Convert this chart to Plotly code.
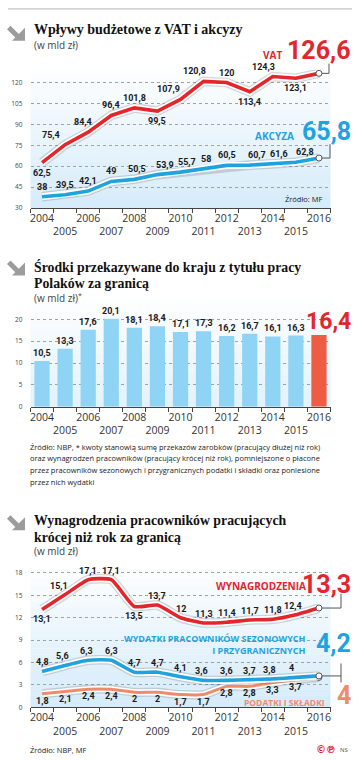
import plotly.graph_objects as go

# ---------------- data ----------------
years = list(range(2004, 2017))
vat = [62.5, 75.4, 84.4, 96.4, 101.8, 99.5, 107.9, 120.8, 120, 113.4, 124.3, 123.1, 126.6]
akcyza = [38, 39.5, 42.1, 49, 50.5, 53.9, 55.7, 58, 60.5, 60.7, 61.6, 62.8, 65.8]
transfers = [10.5, 13.3, 17.6, 20.1, 18.1, 18.4, 17.1, 17.3, 16.2, 16.7, 16.1, 16.3, 16.4]
wages = [13.1, 15.1, 17.1, 17.1, 13.5, 13.7, 12, 11.3, 11.4, 11.7, 11.8, 12.4, 13.3]
expenses = [4.8, 5.6, 6.3, 6.3, 4.7, 4.7, 4.1, 3.6, 3.6, 3.7, 3.8, 4, 4.2]
taxes = [1.8, 2.1, 2.4, 2.4, 2, 2, 1.7, 1.7, 2.8, 2.8, 3.3, 3.7, 4]
year_labels = [str(y) if y % 2 == 0 else "<br>" + str(y) for y in years]
y1_ticks = [30, 45, 60, 75, 90, 105, 120]
y2_ticks = [0, 5, 10, 15, 20]
y3_ticks = [0, 3, 6, 9, 12, 15, 18]

# label placement (style): t = above, b = below; horizontal nudges in px
vat_pos = ['b', 't', 't', 't', 't', 'b', 't', 't', 't', 'b', 't', 'b']
vat_dx = [0, -14, -5, 0, 0, 0, -12, -9, 0, 0, -9, 0]
akc_pos = ['t'] * 12
akc_dx = [0, 0, 0, 0, 3, 8, 6, 2, 0, 7, 6, 9]
bar_pos = ['t'] * 12
bar_dx = [0] * 12
wag_pos = ['b', 't', 't', 't', 'b', 't', 't', 't', 't', 't', 't', 't']
wag_dx = [0, -6, 0, 0, 0, 0, 0, 0, 0, 0, 0, -3]
exp_pos = ['t'] * 12
exp_dx = [0, -3, -2, 0, 0, 0, 0, -2, 0, 0, -3, -4]
tax_pos = ['b'] * 12
tax_dx = [0, 0, 0, 0, 0, 0, 0, 0, 0, 0, 0, 0]

# ---------------- geometry ----------------
W, H = 363, 760
X_LEFT, X_RIGHT = 30.5, 330.5
X_MIN, X_MAX = 2003.5, 2016.5
charts = {
    1: dict(top=70, bottom=209, ymin=30, ymax=30 + 139 / 1.4),
    2: dict(top=300, bottom=409, ymin=0, ymax=109 / 4.4),
    3: dict(top=570, bottom=711, ymin=0, ymax=141 / 7.5),
}

RED = "#e3262b"
BLUE = "#1fa3df"
SALMON = "#f08a6c"
SANS = "Open Sans"
NUM = "Roboto"
SERIF = "Liberation Serif"


def px_x(x):
    return X_LEFT + (x - X_MIN) / (X_MAX - X_MIN) * (X_RIGHT - X_LEFT)


def px_y(v, c):
    ch = charts[c]
    return ch['bottom'] - (v - ch['ymin']) / (ch['ymax'] - ch['ymin']) * (ch['bottom'] - ch['top'])


def fx(p):
    return p / W


def fy(p):
    return 1 - p / H


def fmt(v):
    if float(v) == int(v):
        return str(int(v))
    return ("%.1f" % v).replace('.', ',')


fig = go.Figure()
anns = []
shapes = []


def text(x, y, s, size, color, xanchor='left', family=SANS, weight='normal', align='left'):
    anns.append(dict(xref='paper', yref='paper', x=fx(x), y=fy(y), text=s, showarrow=False,
                     xanchor=xanchor, yanchor='middle', align=align,
                     font=dict(family=family, size=size, color=color, weight=weight)))


def line_series(vals, color, suf, width=3.6, spline=False):
    shape = dict(shape='spline', smoothing=0.5) if spline else dict(shape='linear')
    for w, c in [(width + 6, 'rgba(80,80,80,0.22)'), (width + 3.4, 'white'), (width, color)]:
        fig.add_trace(go.Scatter(x=years, y=vals, mode='lines', xaxis='x' + suf, yaxis='y' + suf,
                                 line=dict(color=c, width=w, **shape), hoverinfo='skip'))
    fig.add_trace(go.Scatter(x=years[-1:], y=vals[-1:], mode='markers', xaxis='x' + suf, yaxis='y' + suf,
                             marker=dict(color='white', size=6, line=dict(color='#555', width=1)),
                             cliponaxis=False, hoverinfo='skip'))


def point_labels(vals, pos, dx, ref, dy=10):
    for i, p in enumerate(pos):
        anns.append(dict(xref='x' + ref, yref='y' + ref, x=years[i], y=vals[i], text=fmt(vals[i]),
                         showarrow=False, xshift=dx[i], yshift=dy if p == 't' else -dy,
                         xanchor='center', yanchor='middle',
                         font=dict(family=NUM, size=9, color='#1a1a1a', weight='bold')))


# ---------------- chart 1 ----------------
line_series(akcyza, BLUE, '')
line_series(vat, RED, '')
point_labels(vat, vat_pos, vat_dx, '')
point_labels(akcyza, akc_pos, akc_dx, '')

# ---------------- chart 2 ----------------
bar_colors = ['#8fd4f5'] * (len(years) - 1) + ['#ee5d43']
fig.add_trace(go.Bar(x=years, y=transfers, xaxis='x2', yaxis='y2', marker=dict(color=bar_colors, line=dict(width=0)),
                     width=0.66, hoverinfo='skip'))
point_labels(transfers, bar_pos, bar_dx, '2', dy=8)

# ---------------- chart 3 ----------------
line_series(taxes, SALMON, '3', width=3.0, spline=True)
line_series(expenses, BLUE, '3', spline=True)
line_series(wages, RED, '3', spline=True)
point_labels(wages, wag_pos, wag_dx, '3', dy=9)
point_labels(expenses, exp_pos, exp_dx, '3', dy=9)
point_labels(taxes, tax_pos, tax_dx, '3', dy=7)

# ---------------- axes ----------------
layout_axes = {}
for i, ticks in [(1, y1_ticks), (2, y2_ticks), (3, y3_ticks)]:
    suf = '' if i == 1 else str(i)
    ch = charts[i]
    layout_axes['xaxis' + suf] = dict(
        domain=[fx(X_LEFT), fx(X_RIGHT)], range=[X_MIN, X_MAX], anchor='y' + suf,
        tickmode='array', tickvals=years, ticktext=year_labels, ticks='', tickangle=0,
        showgrid=False, zeroline=False,
        showline=True, linecolor='#444', linewidth=1.2, ticklabelstandoff=0,
        minor=dict(tickmode='array', tickvals=[y - 0.5 for y in years] + [X_MAX], ticks='outside',
                   ticklen=4, tickcolor='#444', tickwidth=1, showgrid=False),
        tickfont=dict(family=SANS, size=10.5, color='#333'), fixedrange=True)
    layout_axes['yaxis' + suf] = dict(
        domain=[fy(ch['bottom']), fy(ch['top'])], range=[ch['ymin'], ch['ymax']], anchor='x' + suf,
        tickmode='array', tickvals=ticks, ticks='', showgrid=True, gridcolor='#9aa3a8', griddash='dot',
        gridwidth=1, zeroline=False, showline=False, ticklabelstandoff=7,
        tickfont=dict(family=SANS, size=6.5, color='#444'), fixedrange=True)

    # gradient-like background bands
    bottom_col = (214, 236, 250) if i != 2 else (226, 242, 252)
    n = 24
    for k in range(n):
        t = k / n
        r = int(bottom_col[0] + (255 - bottom_col[0]) * t)
        g = int(bottom_col[1] + (255 - bottom_col[1]) * t)
        b = int(bottom_col[2] + (255 - bottom_col[2]) * t)
        shapes.append(dict(type='rect', xref='x' + suf + ' domain', yref='y' + suf + ' domain',
                           x0=0, x1=1, y0=k / n, y1=(k + 1) / n + 0.002, layer='below',
                           fillcolor='rgb(%d,%d,%d)' % (r, g, b), line=dict(width=0)))

# ---------------- decorations ----------------
shapes.append(dict(type='line', xref='paper', yref='paper', x0=fx(8), x1=fx(352), y0=fy(9), y1=fy(9),
                   line=dict(color='#b5b5b5', width=1)))


def bracket(c, val, x_end, y_end, y_start=None):
    x_p = px_x(years[-1]) + 3
    y_p = px_y(val, c)
    shapes.append(dict(type='line', xref='paper', yref='paper', x0=fx(x_p), x1=fx(x_end), y0=fy(y_p), y1=fy(y_p),
                       line=dict(color='#555', width=1)))
    y0 = y_p if y_start is None else y_start
    shapes.append(dict(type='line', xref='paper', yref='paper', x0=fx(x_end), x1=fx(x_end), y0=fy(y0), y1=fy(y_end),
                       line=dict(color='#555', width=1)))


bracket(1, vat[-1], 329, 64)
bracket(1, akcyza[-1], 330, 145)
bracket(3, wages[-1], 341, 597)
bracket(3, expenses[-1], 341, 667, y_start=686)


def arrow_icon(top):
    # grey block arrow pointing down-right (icon decoration)
    def P(x, y):
        return "%.5f,%.5f" % (fx(x), fy(top + y))
    head = "M%s L%s L%s Z" % (P(25, 2), P(25, 15), P(12, 15))
    shaft = "M%s L%s L%s L%s Z" % (P(10.5, 0), P(20.3, 9.8), P(16.8, 13.3), P(7, 3.5))
    for pth in (head, shaft):
        shapes.append(dict(type='path', xref='paper', yref='paper', path=pth,
                           fillcolor='#9c9c9c', line=dict(width=0)))


# titles
arrow_icon(26)
text(32, 30, "Wpływy budżetowe z VAT i akcyzy", 14, '#111', family=SERIF, weight='bold')
text(32, 45, "(w mld zł)", 10, '#444')
arrow_icon(262)
text(32, 268, "Środki przekazywane do kraju z tytułu pracy", 13.8, '#111', family=SERIF, weight='bold')
text(32, 285, "Polaków za granicą", 13.8, '#111', family=SERIF, weight='bold')
text(32, 300, "(w mld zł)<sup>*</sup>", 10, '#444')
arrow_icon(518)
text(32, 523, "Wynagrodzenia pracowników pracujących", 13.8, '#111', family=SERIF, weight='bold')
text(32, 540, "krócej niż rok za granicą", 13.8, '#111', family=SERIF, weight='bold')
text(32, 554, "(w mld zł)", 10, '#444')

# series labels
text(284, 55, "VAT", 10, RED, xanchor='right', weight='bold')
text(353, 51, fmt(vat[-1]), 25, RED, xanchor='right', family=NUM, weight='bold')
text(296, 137, "AKCYZA", 10, BLUE, xanchor='right', weight='bold')
text(353, 132, fmt(akcyza[-1]), 25, BLUE, xanchor='right', family=NUM, weight='bold')
text(325, 200, "Źródło: MF", 7.5, '#222', xanchor='right')

text(353, 323, fmt(transfers[-1]), 23, RED, xanchor='right', family=NUM, weight='bold')

foot = ["Źródło: NBP, * kwoty stanowią sumę przekazów zarobków (pracujący dłużej niż rok)",
        "oraz wynagrodzeń pracowników (pracujący krócej niż rok), pomniejszone o płacone",
        "przez pracowników sezonowych i przygranicznych podatki i składki oraz poniesione",
        "przez nich wydatki"]
for k, line in enumerate(foot):
    text(28, 449 + k * 11.8, line, 7.5, '#222')

text(308, 589, "WYNAGRODZENIA", 10, RED, xanchor='right', weight='bold')
text(353, 588, fmt(wages[-1]), 25, RED, xanchor='right', family=NUM, weight='bold')
text(307, 648, "WYDATKI PRACOWNIKÓW SEZONOWYCH<br>I PRZYGRANICZNYCH", 9, BLUE, xanchor='right',
     weight='bold', align='right')
text(353, 647, fmt(expenses[-1]), 25, BLUE, xanchor='right', family=NUM, weight='bold')
text(327, 706, "PODATKI I SKŁADKI", 8.5, SALMON, xanchor='right', weight='bold')
text(353, 699, fmt(taxes[-1]), 25, SALMON, xanchor='right', family=NUM, weight='bold')

text(28, 754, "Źródło: NBP, MF", 7.5, '#222')
text(338, 753, "©℗", 10, RED, xanchor='right', family="DejaVu Sans", weight='bold')
text(350, 754, "NS", 6, '#555', xanchor='right')

fig.update_layout(
    width=W, height=H, autosize=False, margin=dict(l=0, r=0, t=0, b=0),
    paper_bgcolor='white', plot_bgcolor='white', showlegend=False,
    barmode='overlay', annotations=anns, shapes=shapes, **layout_axes)

fig.write_html("out.html", config={'displayModeBar': False},
               post_script="document.body.style.margin='0';document.body.style.overflow='hidden';")
